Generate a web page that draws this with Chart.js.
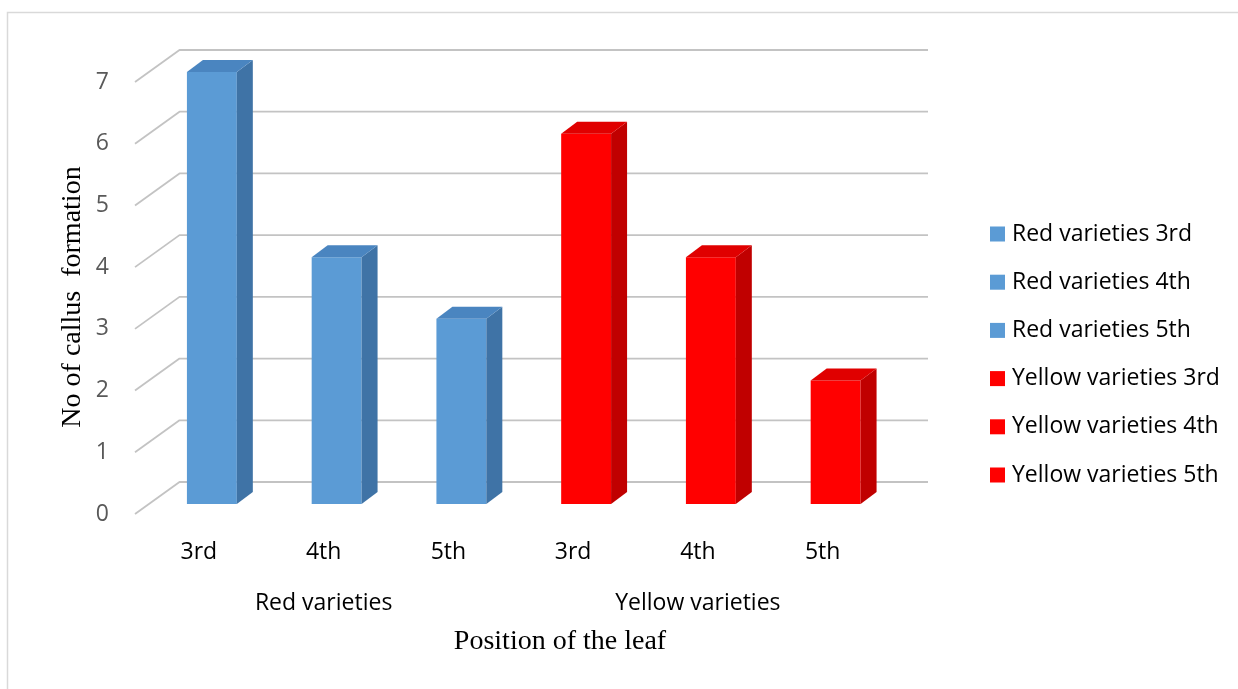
<!DOCTYPE html>
<html>
<head>
<meta charset="utf-8">
<script src="https://cdn.jsdelivr.net/npm/chart.js@4.4.1/dist/chart.umd.min.js"></script>
<style>
  html, body { margin: 0; padding: 0; background: #ffffff; }
  #wrap { width: 1238px; height: 689px; }
</style>
</head>
<body>
<div id="wrap"><canvas id="chart" width="1238" height="689"></canvas></div>
<script>
// Leaf positions along the x axis, grouped by variety
const positions = ['3rd', '4th', '5th', '3rd', '4th', '5th'];
const varietyGroups = ['Red varieties', 'Yellow varieties'];
const groupSize = 3;

// One series per bar, as in the legend
const seriesNames = [
  'Red varieties 3rd', 'Red varieties 4th', 'Red varieties 5th',
  'Yellow varieties 3rd', 'Yellow varieties 4th', 'Yellow varieties 5th'
];
const callusCounts = [7, 4, 3, 6, 4, 2];
const yTickValues = [0, 1, 2, 3, 4, 5, 6, 7];

// Face colours: front, side, top
const frontColors = ['#5b9bd5', '#5b9bd5', '#5b9bd5', '#ff0000', '#ff0000', '#ff0000'];
const sideColors  = ['#3f73a6', '#3f73a6', '#3f73a6', '#c00000', '#c00000', '#c00000'];
const topColors   = ['#4a85c0', '#4a85c0', '#4a85c0', '#e00000', '#e00000', '#e00000'];

const SANS = '"Open Sans", "DejaVu Sans", sans-serif';
const SERIF = '"Liberation Serif", "Times New Roman", serif';
const TEXT_SIZE = 23;

// Perspective offsets relative to the bar front plane
const DEPTH = { frontDX: -14.5, frontDY: 10, backDX: 30, backDY: -22, barDX: 16, barDY: -12 };

const datasets = seriesNames.map((name, i) => ({
  label: name,
  data: positions.map((_, j) => (j === i ? callusCounts[i] : null)),
  backgroundColor: frontColors[i],
  borderWidth: 0,
  sideColor: sideColors[i],
  topColor: topColors[i]
}));

// Frame, perspective gridlines and text that sits outside the axes
const framePlugin = {
  id: 'frame',
  beforeDraw(chart) {
    const ctx = chart.ctx;
    ctx.save();
    ctx.fillStyle = '#ffffff';
    ctx.fillRect(0, 0, chart.width, chart.height);
    ctx.strokeStyle = '#d9d9d9';
    ctx.lineWidth = 1.5;
    ctx.strokeRect(7.5, 12.5, chart.width + 10, chart.height + 10);
    ctx.restore();
  },
  beforeDatasetsDraw(chart) {
    const ctx = chart.ctx;
    const ys = chart.scales.y;
    const L = chart.chartArea.left, R = chart.chartArea.right;
    ctx.save();
    ctx.strokeStyle = '#c3c3c3';
    ctx.lineWidth = 1.8;
    ctx.lineJoin = 'round';
    yTickValues.forEach(v => {
      const y = ys.getPixelForValue(v);
      ctx.beginPath();
      ctx.moveTo(L + DEPTH.frontDX, y + DEPTH.frontDY);
      ctx.lineTo(L + DEPTH.backDX, y + DEPTH.backDY);
      ctx.lineTo(R + DEPTH.backDX, y + DEPTH.backDY);
      ctx.stroke();
    });
    ctx.restore();
  },
  afterDatasetsDraw(chart) {
    const ctx = chart.ctx;
    ctx.save();
    chart.data.datasets.forEach((ds, di) => {
      const meta = chart.getDatasetMeta(di);
      meta.data.forEach((el, j) => {
        if (ds.data[j] === null || ds.data[j] === undefined) return;
        const p = el.getProps(['x', 'y', 'base', 'width'], true);
        const left = p.x - p.width / 2, right = p.x + p.width / 2;
        const dx = DEPTH.barDX, dy = DEPTH.barDY;
        // side face
        ctx.fillStyle = ds.sideColor;
        ctx.beginPath();
        ctx.moveTo(right, p.y);
        ctx.lineTo(right + dx, p.y + dy);
        ctx.lineTo(right + dx, p.base + dy);
        ctx.lineTo(right, p.base);
        ctx.closePath();
        ctx.fill();
        // top face
        ctx.fillStyle = ds.topColor;
        ctx.beginPath();
        ctx.moveTo(left, p.y);
        ctx.lineTo(left + dx, p.y + dy);
        ctx.lineTo(right + dx, p.y + dy);
        ctx.lineTo(right, p.y);
        ctx.closePath();
        ctx.fill();
      });
    });
    ctx.restore();
  },
  afterDraw(chart) {
    const ctx = chart.ctx;
    const xs = chart.scales.x;
    ctx.save();
    // variety group labels under the position labels
    ctx.fillStyle = '#000000';
    ctx.font = TEXT_SIZE + 'px ' + SANS;
    ctx.textAlign = 'center';
    ctx.textBaseline = 'middle';
    varietyGroups.forEach((g, gi) => {
      const a = xs.getPixelForValue(gi * groupSize);
      const b = xs.getPixelForValue(gi * groupSize + groupSize - 1);
      ctx.fillText(g, (a + b) / 2 + DEPTH.frontDX + 1.5, 603);
    });
    // axis titles
    ctx.font = '28px ' + SERIF;
    ctx.fillText('Position of the leaf', 560, 642);
    ctx.translate(73, 297);
    ctx.rotate(-Math.PI / 2);
    ctx.fillText('No of callus  formation', 0, 0);
    ctx.restore();

    // legend
    ctx.save();
    ctx.font = TEXT_SIZE + 'px ' + SANS;
    ctx.textAlign = 'left';
    ctx.textBaseline = 'middle';
    chart.data.datasets.forEach((ds, i) => {
      const cy = 234 + i * 48.2;
      ctx.fillStyle = ds.backgroundColor;
      ctx.fillRect(990, cy - 7.5, 15, 15);
      ctx.fillStyle = '#000000';
      ctx.fillText(ds.label, 1012, cy);
    });
    ctx.restore();
  }
};

new Chart(document.getElementById('chart'), {
  type: 'bar',
  data: { labels: positions, datasets },
  options: {
    responsive: false,
    animation: false,
    layout: { padding: { top: 72, right: 340, left: 0, bottom: 0 } },
    plugins: { legend: { display: false }, tooltip: { enabled: false } },
    datasets: { bar: { grouped: false, barPercentage: 0.4, categoryPercentage: 1 } },
    scales: {
      x: {
        type: 'category',
        grid: { display: false },
        border: { display: false },
        ticks: {
          font: { family: SANS, size: TEXT_SIZE },
          color: '#000000',
          padding: 26.5,
          labelOffset: -13,
          maxRotation: 0,
          autoSkip: false
        },
        afterFit(scale) { scale.height = 185; }
      },
      y: {
        min: 0,
        max: 7,
        grid: { display: false },
        border: { display: false },
        ticks: {
          stepSize: 1,
          font: { family: SANS, size: TEXT_SIZE },
          color: '#595959',
          padding: 32.5,
          labelOffset: 10
        },
        afterFit(scale) { scale.width = 149.5; }
      }
    }
  },
  plugins: [framePlugin]
});
</script>
</body>
</html>
